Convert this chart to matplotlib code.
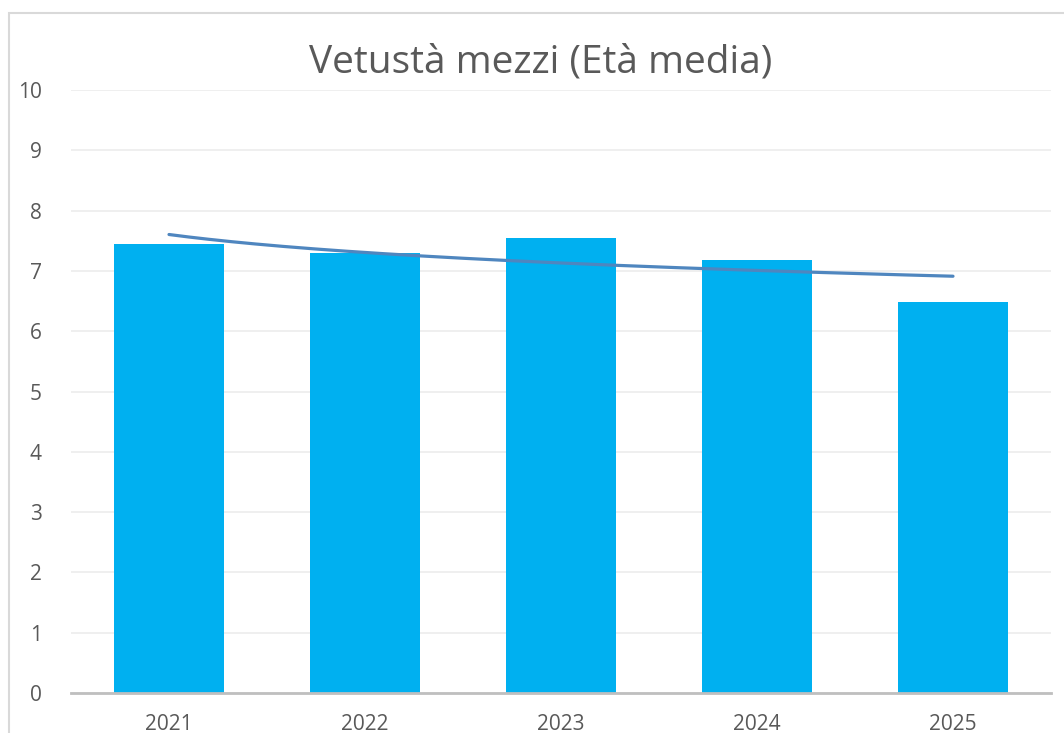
import numpy as np
import matplotlib
matplotlib.use("Agg")
import matplotlib.pyplot as plt
from matplotlib.patches import Rectangle

plt.rcParams['font.family'] = ['Open Sans', 'DejaVu Sans']

# data
years = ['2021', '2022', '2023', '2024', '2025']
eta_media = [7.45, 7.30, 7.55, 7.18, 6.48]

bar_color = '#00B0F0'
trend_color = '#4F86BF'
text_color = '#595959'

fig = plt.figure(figsize=(10.64, 7.33), dpi=100)
ax = fig.add_axes([71 / 1064, 40 / 733, 980 / 1064, 603 / 733])

x = np.arange(len(years))
ax.bar(x, eta_media, width=0.565, color=bar_color, zorder=2)

# logarithmic trend line (as Excel does it), fitted on the values
xi = x + 1
a, b = np.polyfit(np.log(xi), eta_media, 1)
xs = np.linspace(1, len(years), 200)
ax.plot(xs - 1, a * np.log(xs) + b, color=trend_color, lw=2.3, zorder=3,
        solid_capstyle='round')

ax.set_xlim(-0.5, len(years) - 0.5)
ax.set_ylim(0, 10)
ax.set_yticks(range(0, 11))
ax.set_xticks(x)
ax.set_xticklabels(years)
ax.grid(axis='y', color='#eeeeee', lw=1.3, zorder=0)
ax.set_axisbelow(True)

for s in ['top', 'right', 'left']:
    ax.spines[s].set_visible(False)
ax.spines['bottom'].set_color('#bfbfbf')
ax.spines['bottom'].set_linewidth(2)
ax.spines['bottom'].set_zorder(4)

ax.tick_params(axis='both', length=0, labelsize=15, labelcolor=text_color)
ax.tick_params(axis='y', pad=21)
ax.tick_params(axis='x', pad=15)

fig.text(541 / 1064, 1 - 63 / 733, 'Vetustà mezzi (Età media)', ha='center',
         va='center', fontsize=28, color=text_color)

# outer chart border (cut off at right and bottom)
fig.patches.append(Rectangle((9 / 1064, -0.1), 1.2, 1 - 13 / 733 + 0.1,
                             transform=fig.transFigure, fill=False,
                             edgecolor='#d9d9d9', lw=1.5))

fig.savefig('out.png', dpi=100)
